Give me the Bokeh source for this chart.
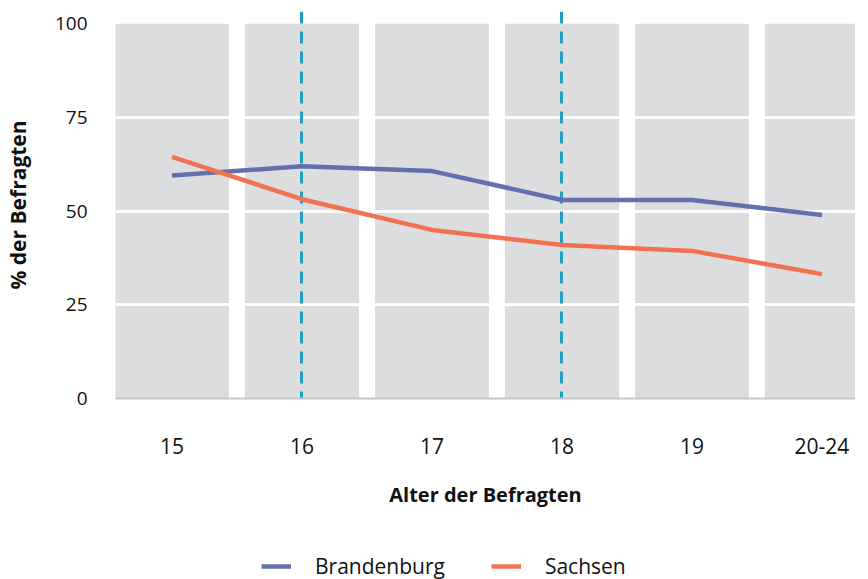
from bokeh.plotting import figure
from bokeh.layouts import column
from bokeh.models import Range1d, FixedTicker, Legend, LegendItem
from bokeh.embed import file_html
from bokeh.resources import INLINE

categories = ["15", "16", "17", "18", "19", "20-24"]
brandenburg = [59.5, 62.0, 60.7, 53.0, 53.0, 49.0]
sachsen = [64.5, 53.2, 45.0, 41.0, 39.4, 33.2]
highlight = ["16", "18"]
y_ticks = [0, 25, 50, 75, 100]
series_names = ["Brandenburg", "Sachsen"]
series_colors = ["#6370ad", "#f2714f"]

FONT = "Open Sans"
idx = list(range(len(categories)))

p = figure(frame_width=740, frame_height=387, output_backend="svg", toolbar_location=None,
           x_range=Range1d(-0.4346, 5.258), y_range=Range1d(0, 103.3),
           min_border_left=111, min_border_right=0, min_border_top=11, min_border_bottom=130)
p.outline_line_color = None
p.xgrid.visible = False
p.ygrid.visible = False
p.background_fill_color = "white"

# category bands
p.quad(left=[i - 0.4385 for i in idx], right=[i + 0.4385 for i in idx],
       bottom=[0] * len(idx), top=[100] * len(idx),
       fill_color="#dcdddf", line_color=None)
# white grid lines
p.hspan(y=y_ticks[1:-1], line_color="white", line_width=3)

# highlight dashed lines
p.vspan(x=[categories.index(c) for c in highlight], line_color="#1f9ebf",
        line_width=3, line_dash="12 8")

p.line(idx, brandenburg, line_color=series_colors[0], line_width=4.5)
p.line(idx, sachsen, line_color=series_colors[1], line_width=4.5)

# axes
p.xaxis.ticker = FixedTicker(ticks=idx)
p.xaxis.major_label_overrides = {i: c for i, c in zip(idx, categories)}
p.xaxis.axis_line_color = "#c6c6c6"
p.xaxis.axis_line_width = 2
p.xaxis.major_tick_line_color = None
p.xaxis.minor_tick_line_color = None
p.xaxis.major_label_standoff = 33
p.xaxis.major_label_text_font = FONT
p.xaxis.major_label_text_font_size = "21px"
p.xaxis.major_label_text_color = "#111111"
p.xaxis.axis_label = "Alter der Befragten"
p.xaxis.axis_label_text_font = FONT
p.xaxis.axis_label_text_font_style = "bold"
p.xaxis.axis_label_text_font_size = "20px"
p.xaxis.axis_label_text_color = "#111111"
p.xaxis.axis_label_standoff = 24

p.yaxis.ticker = FixedTicker(ticks=y_ticks)
p.yaxis.axis_line_color = None
p.yaxis.major_tick_line_color = None
p.yaxis.minor_tick_line_color = None
p.yaxis.major_label_standoff = 22
p.yaxis.major_label_text_font = FONT
p.yaxis.major_label_text_font_size = "19px"
p.yaxis.major_label_text_color = "#111111"
p.yaxis.axis_label = "% der Befragten"
p.yaxis.axis_label_text_font = FONT
p.yaxis.axis_label_text_font_style = "bold"
p.yaxis.axis_label_text_font_size = "21px"
p.yaxis.axis_label_text_color = "#111111"
p.yaxis.axis_label_standoff = 20

# legend strip
lp = figure(frame_width=740, height=52, output_backend="svg", toolbar_location=None,
            x_range=Range1d(0, 1), y_range=Range1d(0, 1),
            min_border_left=111, min_border_right=0, min_border_top=0, min_border_bottom=0)
lp.axis.visible = False
lp.grid.visible = False
lp.outline_line_color = None
items = []
for name, col in zip(series_names, series_colors):
    r = lp.line([-5, -4], [-5, -4], line_color=col, line_width=4.5)
    items.append(LegendItem(label=name, renderers=[r]))
legend = Legend(items=items, orientation="horizontal", location=(224, 0),
                glyph_width=30, label_standoff=24, spacing=46,
                label_text_font=FONT, label_text_font_size="21px",
                label_text_color="#111111", border_line_color=None,
                background_fill_alpha=0, margin=0, padding=0)
lp.add_layout(legend)

open("out.html", "w").write(file_html(column(p, lp), INLINE))
